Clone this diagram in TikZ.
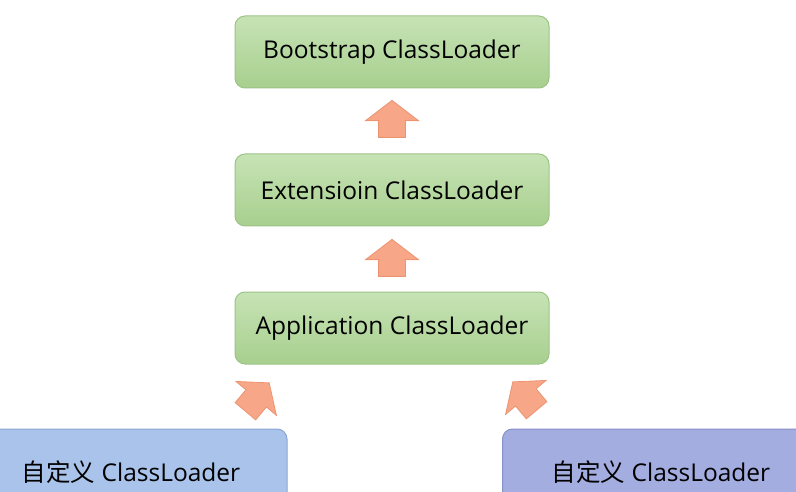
\documentclass[tikz,border=0pt]{standalone}
\usepackage{fontspec}
\setmainfont{Open Sans}
\newfontfamily\cjk{Noto Sans CJK SC}
\usetikzlibrary{shapes.arrows}
\definecolor{boxgreentop}{HTML}{C6E3B5}
\definecolor{boxgreenbot}{HTML}{A8CF8E}
\definecolor{boxgreenline}{HTML}{9CC487}
\definecolor{loaderblue}{HTML}{A9C3EA}
\definecolor{loaderblueline}{HTML}{8AA6D4}
\definecolor{loaderviolet}{HTML}{A3ADE0}
\definecolor{loadervioletline}{HTML}{8791C9}
\definecolor{arrowfill}{HTML}{F7A787}
\definecolor{arrowline}{HTML}{EC9472}
\tikzset{
  loader/.style= {draw=boxgreenline, line width=1pt, rounded corners=10pt,
    top color=boxgreentop, bottom color=boxgreenbot,
    minimum width=314pt, minimum height=72pt, font=\fontsize{24.5}{28}\selectfont},
  custom/.style= {draw, line width=1pt, rounded corners=10pt,
    minimum height=86pt, font=\fontsize{24.5}{28}\selectfont},
  uparrow/.style= {single arrow, draw=arrowline, fill=arrowfill, line width=0.8pt,
    inner xsep=0pt, inner ysep=13pt, minimum height=37pt,
    single arrow head extend=13pt, single arrow tip angle=105},
}
\begin{document}
\begin{tikzpicture}[x=1pt, y=-1pt]
  \useasboundingbox (0,0) rectangle (796,492);
  \clip (0,0) rectangle (796,492);
  \node [loader] (boot) at (392,52) {Bootstrap ClassLoader} ;
  \node [loader] (ext) at (392,190) {Extensioin ClassLoader} ;
  \node [loader] (app) at (392,328) {Application ClassLoader} ;
  \node [custom, draw=loaderblueline, fill=loaderblue, minimum width=312pt] (cla) at (131,472) {{\cjk 自定义} ClassLoader} ;
  \node [custom, draw=loadervioletline, fill=loaderviolet, minimum width=317pt] (clb) at (661,472) {{\cjk 自定义} ClassLoader} ;

  \node [uparrow, rotate=90] (up1) at (392,124) {} ;
  \node [uparrow, rotate=90] (up2) at (392,263) {} ;
  \node [uparrow, rotate=50] (upa) at (254,401) {} ;
  \node [uparrow, rotate=130] (upb) at (528,400) {} ;
\end{tikzpicture}
\end{document}
